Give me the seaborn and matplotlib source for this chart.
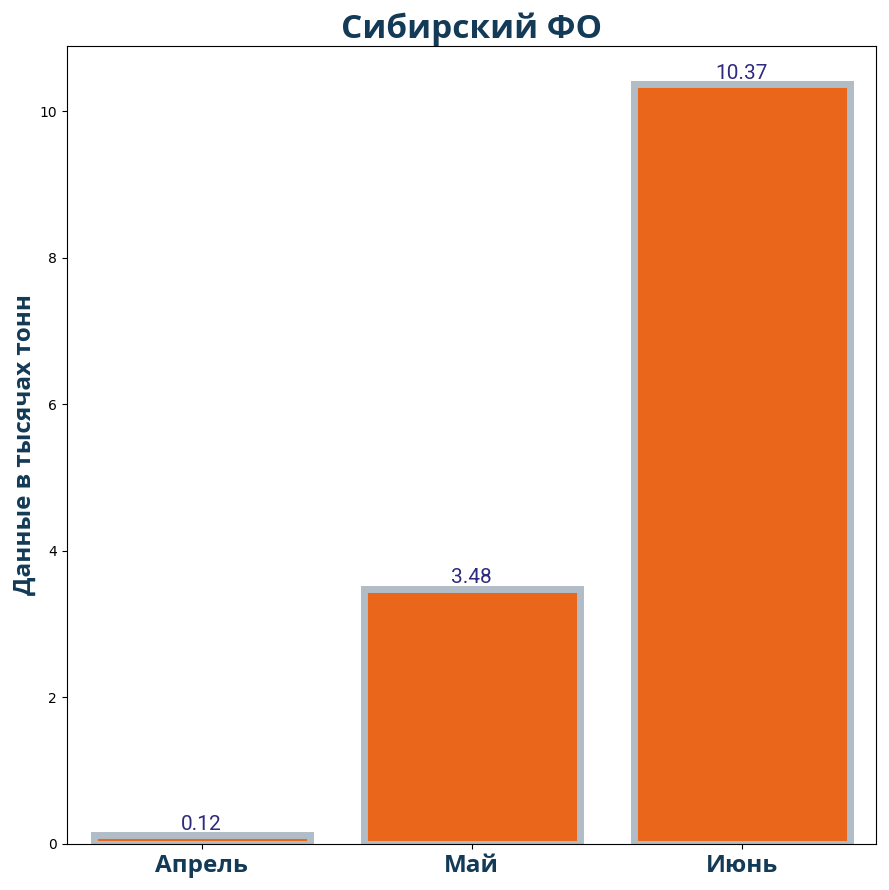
import pandas as pd
import matplotlib.pyplot as plt
import seaborn as sns

# data
months = ["Апрель", "Май", "Июнь"]
values = [0.12, 3.48, 10.37]

df = pd.DataFrame({"month": months, "value": values})

dark_blue = "#133a56"
orange = "#ea661b"
edge_grey = "#b0bcc6"
label_col = "#2e2a7e"

plt.rcParams['font.family'] = ['DejaVu Sans']
bold_font = ['Open Sans', 'DejaVu Sans']

fig, ax = plt.subplots(figsize=(8.89, 8.90), dpi=100)
sns.barplot(x="month", y="value", data=df, color=orange, edgecolor=edge_grey,
            linewidth=5, saturation=1, ax=ax, width=0.8)

# value labels on top
for i, v in enumerate(values):
    ax.text(i, v + 0.02, f"{v:.2f}", ha="center", va="bottom", fontsize=15,
            color=label_col, family=['Roboto', 'DejaVu Sans'], fontweight="normal")

ax.set_title("Сибирский ФО", fontsize=24, fontweight="bold", color=dark_blue,
             family=bold_font, pad=2)
ax.set_ylabel("Данные в тысячах тонн", fontsize=17.5, fontweight="bold",
              color=dark_blue, family=bold_font, labelpad=2)
ax.set_xlabel("")
ax.set_ylim(0, max(values) * 1.05)
ax.set_xticks(range(len(months)))
ax.set_xticklabels(months, fontsize=17.5, fontweight="bold", color=dark_blue,
                   family=bold_font)

plt.tight_layout(pad=0.9)
plt.savefig("out.png")
